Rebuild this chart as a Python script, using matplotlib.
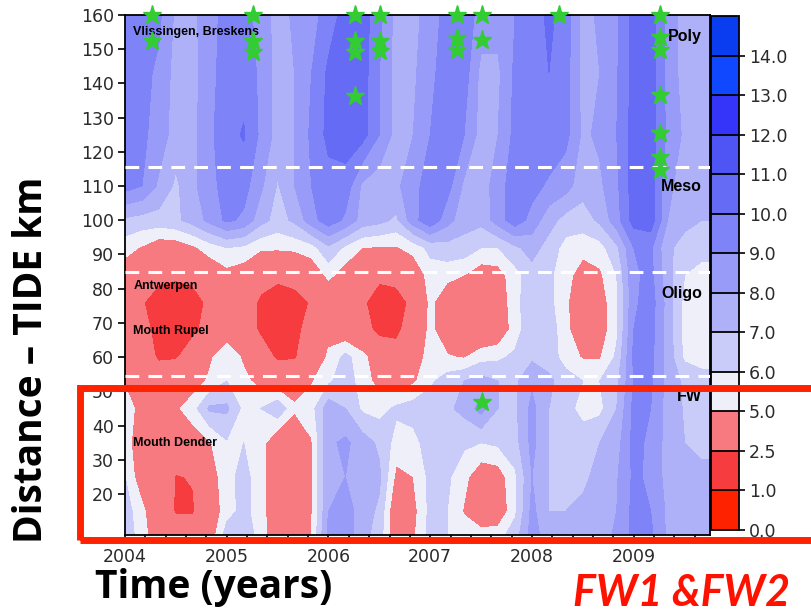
import numpy as np
import matplotlib.pyplot as plt
from matplotlib.patches import Rectangle

# time axis (years), one column every two months
years = 2004 + np.arange(36) / 6.0
# distance along the estuary (km), one row per list below
dist = [8, 15, 25, 35, 45, 53, 60, 68, 76, 84, 92, 100, 110, 125, 143, 160]

# oxygen (mg/l), one list per distance
o2_008 = [6.6, 5.5, 4.0, 3.6, 3.8, 4.2, 6.5, 6.6, 5.6, 4.0, 3.7, 5.0, 8.3, 8.6, 7.4, 6.5, 4.0, 4.8,
          6.4, 6.0, 5.5, 5.5, 5.6, 6.5, 8.4, 7.5, 7.4, 7.3, 7.5, 8.2, 9.3, 9.2, 7.8, 7.5, 7.3, 7.3]
o2_015 = [6.5, 5.3, 3.8, 2.3, 2.3, 4.0, 5.6, 6.3, 5.5, 3.8, 3.6, 4.9, 8.0, 8.5, 7.5, 6.8, 3.8, 4.6,
          6.3, 6.0, 4.9, 3.8, 4.0, 5.8, 8.3, 7.0, 7.0, 7.2, 7.6, 8.0, 9.3, 9.0, 7.8, 7.5, 7.3, 7.3]
o2_025 = [6.0, 4.2, 3.7, 2.4, 2.6, 4.3, 5.7, 6.3, 5.5, 3.8, 3.6, 4.9, 7.8, 8.0, 7.8, 7.2, 4.7, 5.0,
          6.3, 6.2, 5.3, 4.2, 4.4, 5.8, 8.0, 7.0, 6.8, 6.8, 7.3, 7.9, 9.2, 8.8, 7.6, 7.4, 7.2, 7.2]
o2_035 = [5.6, 4.0, 3.8, 3.8, 4.3, 4.9, 5.9, 6.0, 5.4, 4.0, 3.7, 4.9, 7.8, 8.2, 7.5, 6.8, 5.6, 5.6,
          6.6, 6.4, 6.2, 6.0, 6.2, 6.6, 8.3, 7.0, 6.7, 6.6, 7.0, 7.6, 9.3, 8.8, 7.6, 7.0, 6.8, 6.8]
o2_045 = [6.0, 4.2, 3.8, 4.8, 5.6, 7.2, 7.2, 5.7, 6.0, 6.8, 5.2, 5.6, 7.6, 7.0, 5.8, 5.6, 6.2, 6.5,
          6.6, 6.8, 7.3, 8.4, 7.0, 6.8, 8.3, 7.0, 6.4, 5.6, 5.7, 7.0, 9.3, 9.0, 7.6, 6.9, 6.7, 6.7]
o2_053 = [4.8, 3.9, 4.0, 4.2, 4.4, 5.2, 6.0, 5.3, 4.6, 4.2, 4.2, 4.9, 5.8, 6.6, 5.5, 4.6, 4.4, 4.8,
          5.8, 6.5, 7.0, 7.4, 7.0, 6.8, 7.8, 7.2, 6.5, 6.0, 6.0, 6.8, 9.0, 9.2, 7.6, 6.8, 6.5, 6.5]
o2_060 = [4.0, 3.6, 2.2, 2.3, 3.5, 4.8, 5.8, 4.8, 3.5, 2.2, 2.3, 3.8, 5.2, 6.3, 5.4, 4.0, 3.4, 4.2,
          5.5, 5.1, 4.9, 5.6, 5.8, 6.2, 6.8, 6.6, 5.5, 4.9, 4.9, 6.2, 9.2, 9.3, 7.6, 5.8, 5.5, 5.5]
o2_068 = [3.6, 3.0, 2.0, 1.9, 2.1, 3.2, 4.2, 3.6, 2.2, 1.8, 2.0, 3.2, 4.6, 4.0, 3.2, 2.0, 2.0, 3.6,
          5.3, 4.2, 3.8, 3.7, 4.0, 5.5, 6.8, 6.6, 5.3, 4.0, 4.3, 5.8, 9.0, 9.4, 7.6, 5.6, 5.4, 5.4]
o2_076 = [3.8, 2.6, 1.8, 1.7, 1.9, 2.8, 3.8, 3.4, 2.2, 1.8, 2.0, 2.6, 3.8, 3.7, 2.7, 1.8, 2.0, 2.8,
          5.3, 4.0, 3.6, 3.7, 4.2, 5.6, 6.8, 6.3, 5.2, 3.9, 4.4, 5.8, 8.8, 9.5, 7.6, 5.7, 5.4, 5.4]
o2_084 = [4.3, 3.8, 2.9, 2.7, 2.9, 4.0, 4.6, 4.3, 3.2, 2.8, 3.0, 4.0, 5.3, 4.4, 3.4, 2.8, 2.9, 4.0,
          5.5, 5.4, 5.0, 4.3, 4.5, 5.6, 6.6, 6.2, 5.4, 4.4, 4.8, 6.0, 8.8, 9.3, 7.4, 6.0, 5.6, 5.6]
o2_092 = [5.4, 4.9, 4.2, 4.3, 4.8, 5.5, 6.0, 5.8, 5.2, 5.2, 5.3, 5.6, 6.8, 5.8, 5.0, 4.9, 4.9, 5.4,
          6.3, 6.6, 6.6, 6.0, 6.0, 6.8, 7.4, 6.6, 5.6, 5.4, 5.6, 6.8, 9.0, 9.2, 7.2, 6.6, 6.4, 6.4]
o2_100 = [6.8, 6.6, 6.6, 6.8, 7.4, 8.3, 9.2, 8.8, 7.4, 6.6, 7.2, 8.6, 9.6, 8.8, 7.6, 7.3, 6.8, 8.6,
          9.8, 8.4, 7.4, 7.3, 8.5, 9.6, 8.6, 7.4, 6.6, 6.5, 7.2, 8.6, 10.4, 10.6, 8.0, 7.3, 7.0, 7.0]
o2_110 = [9.4, 9.0, 7.8, 6.8, 7.8, 8.6, 9.5, 9.4, 8.2, 6.9, 8.0, 9.0, 9.6, 9.6, 7.8, 7.4, 7.8, 8.6,
          9.6, 9.4, 7.8, 7.4, 8.6, 9.5, 9.4, 8.8, 8.4, 7.4, 7.8, 8.8, 10.5, 10.5, 8.2, 7.6, 7.4, 7.4]
o2_125 = [9.8, 9.2, 8.6, 7.5, 7.7, 8.8, 9.6, 10.1, 8.8, 7.6, 8.0, 9.2, 10.3, 10.5, 10.4, 9.0, 7.6, 8.0,
          9.0, 9.5, 9.0, 7.6, 8.0, 9.3, 9.6, 9.8, 9.3, 7.8, 8.2, 9.0, 10.4, 10.5, 8.8, 7.8, 7.6, 7.6]
o2_143 = [9.6, 9.3, 8.8, 7.6, 7.7, 8.6, 9.6, 9.6, 8.8, 7.6, 8.0, 9.0, 10.2, 10.5, 10.5, 9.0, 7.6, 7.8,
          8.8, 9.4, 9.5, 7.7, 7.8, 9.2, 9.6, 10.0, 9.4, 7.6, 8.0, 8.9, 10.4, 10.5, 8.6, 7.6, 7.5, 7.5]
o2_160 = [9.7, 9.7, 9.2, 7.8, 7.8, 8.5, 9.5, 9.3, 8.7, 7.5, 8.2, 8.6, 9.5, 10.4, 10.5, 9.3, 7.6, 7.6,
          8.6, 9.3, 9.6, 8.6, 8.4, 9.0, 9.5, 10.2, 9.6, 7.6, 8.2, 8.8, 10.4, 10.5, 8.6, 7.6, 7.5, 7.5]

o2 = np.array([o2_008, o2_015, o2_025, o2_035, o2_045, o2_053, o2_060, o2_068,
               o2_076, o2_084, o2_092, o2_100, o2_110, o2_125, o2_143, o2_160])

# colour classes
levels = [0, 1, 2.5, 5, 6, 7, 8, 9, 10, 11, 12, 13, 14, 15]
colors = ['#ff2200', '#f73c40', '#f77a80', '#efeffa', '#c9cbf8', '#aeb1f8', '#989bf8',
          '#7f83f8', '#666bf6', '#4f55f4', '#3535fa', '#0f48ff', '#0a3cf0']

# stations with observations (stars)
star_t = [2004.27, 2004.27, 2005.26, 2005.26, 2005.26, 2006.26, 2006.26, 2006.26, 2006.26,
          2006.51, 2006.51, 2006.51, 2007.26, 2007.26, 2007.26, 2007.51, 2007.51, 2007.51,
          2008.27, 2009.26, 2009.26, 2009.26, 2009.26, 2009.26, 2009.26, 2009.26]
star_d = [160, 152.3, 160, 152.3, 149.3, 160, 152.3, 149.3, 136.3,
          160, 152.5, 149.5, 160, 153.3, 149.8, 160, 152.7, 47.0,
          160, 160, 153.6, 149.8, 136.6, 125.5, 118.5, 114.7]

zones = [115.5, 85, 54.5]

fig = plt.figure(figsize=(8.11, 6.12), dpi=100)
ax = fig.add_axes([125/811, 1-535/612, 585/811, 520/612])

cs = ax.contourf(years, dist, o2, levels=levels, colors=colors)
for z in zones:
    ax.axhline(z, color='white', lw=2.2, ls=(0, (4.5, 3)), zorder=3)
ax.plot(star_t, star_d, '*', color='#33cc33', ms=14, mec='#33cc33', clip_on=False, zorder=6)

ax.set_xlim(2004, 2009.75)
ax.set_ylim(8, 160)
xt = np.round(np.arange(2004, 2009.7, 0.2), 1)
ax.set_xticks(xt)
ax.set_xticklabels([str(int(t)) if abs(t - round(t)) < 1e-6 else '' for t in xt])
ax.set_yticks(range(20, 161, 10))
ax.tick_params(direction='out', length=5, width=1.2, labelsize=12.5, labelcolor='#2a2a2a', pad=3)
ax.tick_params(axis='x', pad=4)
for s in ax.spines.values():
    s.set_linewidth(1.3)

lab = dict(family='Liberation Sans', weight='bold', color='black')
ax.text(0.014, 155, 'Vlissingen, Breskens', fontsize=9, va='center', transform=ax.get_yaxis_transform(), **lab)
ax.text(0.014, 80.8, 'Antwerpen', fontsize=9, va='center', transform=ax.get_yaxis_transform(), **lab)
ax.text(0.014, 67.6, 'Mouth Rupel', fontsize=9, va='center', transform=ax.get_yaxis_transform(), **lab)
ax.text(0.014, 34.9, 'Mouth Dender', fontsize=9, va='center', transform=ax.get_yaxis_transform(), **lab)
ax.text(0.986, 153.6, 'Poly', fontsize=11.5, ha='right', va='center', transform=ax.get_yaxis_transform(), **lab)
ax.text(0.986, 110.0, 'Meso', fontsize=11.5, ha='right', va='center', transform=ax.get_yaxis_transform(), **lab)
ax.text(0.986, 78.7, 'Oligo', fontsize=11.5, ha='right', va='center', transform=ax.get_yaxis_transform(), **lab)
ax.text(0.986, 48.6, 'FW', fontsize=11.5, ha='right', va='center', transform=ax.get_yaxis_transform(), **lab)

cax = fig.add_axes([711/811, 1-530/612, 28/811, 514/612])
cb = fig.colorbar(cs, cax=cax, drawedges=True)
cb.set_ticks(levels[:-1])
cb.set_ticklabels(['%.1f' % v for v in levels[:-1]])
cb.outline.set_linewidth(1.3)
cb.dividers.set_linewidth(1.3)
cax.tick_params(direction='out', length=4, width=1.2, labelsize=12.5, labelcolor='#2a2a2a', pad=3)

fig.text(95/811, 1-598/612, 'Time (years)', family='Open Sans', weight='bold', fontsize=28,
         ha='left', va='baseline')
fig.text(32/811, 1-360/612, 'Distance \u2013 TIDE km', family='Open Sans', weight='bold', fontsize=28,
         rotation=90, ha='center', va='center')
fig.text(573/811, 1-606/612, 'FW1 &FW2', family='Lato', weight='bold', style='italic', fontsize=31,
         color='#ff1100', ha='left', va='baseline')

fig.patches.append(Rectangle((80/811, 1-540/612), 740/811, 152/612, transform=fig.transFigure,
                             fill=False, ec='#ff2200', lw=5, zorder=10))

fig.savefig('out.png', dpi=100)
